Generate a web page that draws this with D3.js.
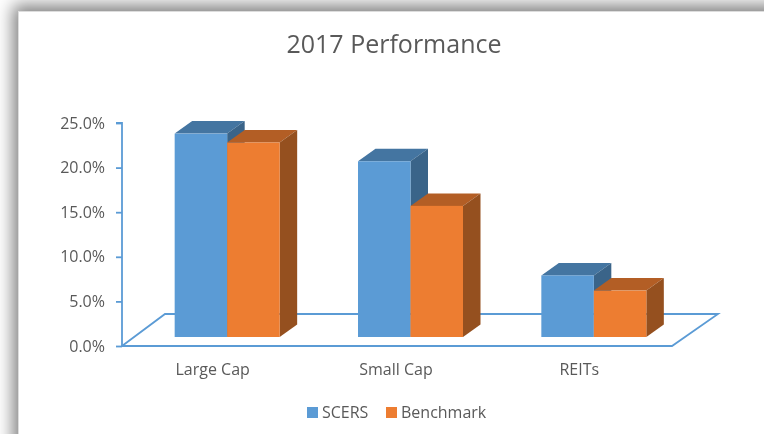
<!DOCTYPE html>
<html><head><meta charset="utf-8">
<script src="https://cdn.jsdelivr.net/npm/d3@7"></script>
<style>
html,body{margin:0;padding:0;background:#fff;overflow:hidden;width:764px;height:434px}
#card{position:absolute;left:18px;top:11px;width:800px;height:500px;background:#fff;box-shadow:-2px -3px 16px 3px rgba(0,0,0,.5);border-left:1px solid #ddd;border-top:1px solid #ddd;box-sizing:border-box}
svg{position:absolute;left:0;top:0;filter:blur(0.35px)}
text{font-family:"Open Sans",sans-serif}
</style></head><body>
<div id="card"></div>
<svg id="c" width="764" height="434"></svg>
<script>
const title = "2017 Performance";
const categories = ["Large Cap","Small Cap","REITs"];
const seriesNames = ["SCERS","Benchmark"];
const scers = [22.8,19.7,6.9];
const benchmark = [21.8,14.7,5.2];
const yTicks = [0,5,10,15,20,25];
const colors = {SCERS:{front:"#5b9bd5",top:"#4475a1",side:"#3a6489"},Benchmark:{front:"#ed7d31",top:"#b35e25",side:"#95501f"}};
const axisColor = "#5b9bd5";

const svg = d3.select("#c");
const y = d3.scaleLinear().domain([0,25]).range([346,123]);
const x0 = d3.scaleBand().domain(categories).range([122,672]);
const front = d3.scaleBand().domain(categories).range([135.5,685.5]);
const x1 = d3.scaleBand().domain(seriesNames).range([0,105]);
const depth = {fx:43,fy:-32, barFy:-9, dx:17.5, dy:-12.5};

svg.append("text").attr("x",394).attr("y",53).attr("text-anchor","middle")
  .attr("font-size",25).attr("fill","#595959").text(title);

// floor
const f0 = y(0), fl = x0.range()[0], fr = x0.range()[1];
svg.append("path").attr("fill","none").attr("stroke",axisColor).attr("stroke-width",1.8)
  .attr("d",d3.line()([[fl,f0],[fl+depth.fx,f0+depth.fy],[fr+depth.fx+3,f0+depth.fy],[fr,f0],[fl,f0]]));

// y axis
const axis = d3.axisLeft(y).tickValues(yTicks).tickFormat(d=>d.toFixed(1)+"%").tickSize(6).tickPadding(11);
const ga = svg.append("g").attr("transform",`translate(${fl},0)`).call(axis);
ga.selectAll("path,line").attr("stroke",axisColor).attr("stroke-width",1.8);
ga.select("path").attr("d",`M-6,${y(25)}H0V${y(0)}`);
ga.selectAll("text").attr("font-size",16).attr("fill","#595959").attr("font-family",'"Open Sans",sans-serif');

// bars
const rows = [];
categories.forEach((c,i)=>{
  rows.push({c,s:"SCERS",v:scers[i]});
  rows.push({c,s:"Benchmark",v:benchmark[i]});
});
const bars = svg.append("g").selectAll("g").data(rows).join("g");
bars.each(function(d){
  const g = d3.select(this);
  const L = front(d.c)+front.bandwidth()/2-52.5+x1(d.s), R = L+x1.bandwidth();
  const B = y(0)+depth.barFy, T = y(d.v)+depth.barFy;
  const {dx,dy} = depth, col = colors[d.s];
  g.append("path").attr("fill",col.top).attr("d",d3.line()([[L,T],[L+dx,T+dy],[R+dx,T+dy],[R,T]])+"Z");
  g.append("path").attr("fill",col.side).attr("d",d3.line()([[R,T],[R+dx,T+dy],[R+dx,B+dy],[R,B]])+"Z");
  g.append("rect").attr("x",L).attr("y",T).attr("width",R-L).attr("height",B-T).attr("fill",col.front);
});

// category labels
svg.append("g").selectAll("text").data(categories).join("text")
  .attr("x",d=>x0(d)+x0.bandwidth()/2-1).attr("y",375).attr("text-anchor","middle")
  .attr("font-size",16).attr("fill","#595959").text(d=>d);

// legend
const lx = [307,386];
const leg = svg.append("g").selectAll("g").data(seriesNames).join("g")
  .attr("transform",(d,i)=>`translate(${lx[i]},407)`);
leg.append("rect").attr("width",11).attr("height",11).attr("fill",d=>colors[d].front);
leg.append("text").attr("x",15).attr("y",11).attr("font-size",16).attr("fill","#595959").text(d=>d);
</script>
</body></html>
